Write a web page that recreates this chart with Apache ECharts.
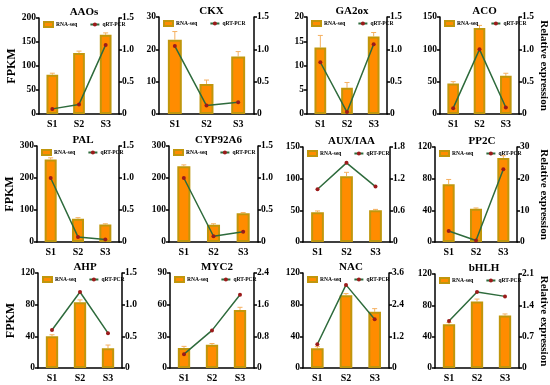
<!DOCTYPE html>
<html><head><meta charset="utf-8">
<script src="https://cdn.jsdelivr.net/npm/echarts@6/dist/echarts.min.js"></script>
<style>html,body{margin:0;padding:0;background:#fff}#c{width:550px;height:385px}</style>
</head><body><div id="c"></div>
<script>
const categories = ['S1','S2','S3'];
const genes = ['AAOs','CKX','GA2ox','ACO','PAL','CYP92A6','AUX/IAA','PP2C','AHP','MYC2','NAC','bHLH'];
const rnaSeq = [[82,127,165],[23,9.3,17.8],[13.7,5.4,16],[47,133,59],[258,73,55],[237,54,90],[47,104,50],[73,42,106],[40,83,25],[19,22,55],[25,92,71],[56,85,67]];
const rnaSeqErr = [[3,4,4],[2.5,1.2,1.5],[2.5,1.1,0.8],[3,4,4],[5,3,2],[4,3,2],[2,6,1.5],[6,1,3],[2,3,4],[1.5,1.2,2.5],[2,2,4],[2,3,2]];
const qrtPcr = [[0.08,0.15,1.08],[1.05,0.13,0.18],[0.8,0.03,1.08],[0.09,1.0,0.1],[1.0,0.08,0.04],[1.0,0.09,0.16],[1.0,1.5,1.05],[3.5,0.5,23],[0.6,1.2,0.55],[0.35,0.95,1.85],[0.9,3.15,1.85],[1.05,1.7,1.6]];
const leftMax = [200,30,20,150,300,300,150,120,120,90,120,120];
const leftStep = [50,10,5,50,100,100,50,40,40,30,40,40];
const rightMax = [1.5,1.5,1.5,1.5,1.5,1.5,1.8,30,1.5,2.4,3.6,2.1];
const rightStep = [0.5,0.5,0.5,0.5,0.5,0.5,0.6,10,0.5,0.8,1.2,0.7];

const boxes = [
  [39,18,80,96],[159,17,95,97],[307,17,80,97],[440,17,79,97],
  [37,146,82,96],[169,146,89,96],[303,147,87,95],[435,147,84,95],
  [38,273,84,95],[170,273,84,95],[303,273,86,95],[435,274,88,94]
];
const FF = 'Liberation Serif';
const grid=[],xAxis=[],yAxis=[],series=[],title=[],legend=[];
boxes.forEach((b,i)=>{
  grid.push({left:b[0],top:b[1],width:b[2],height:b[3]});
  title.push({text:genes[i],left:b[0]+b[2]/2,top:b[1]-16,textAlign:'center',
    textStyle:{fontFamily:FF,fontWeight:'bold',fontSize:11,color:'#000'}});
  legend.push({left:b[0]+4,top:b[1]+3,itemWidth:9,itemHeight:5,itemGap:12,padding:0,
    textStyle:{fontFamily:FF,fontWeight:'bold',fontSize:5.5,color:'#000',padding:[0,0,0,-2]},
    data:[{name:'RNA-seq',icon:'rect'},{name:'qRT-PCR'}]});
  xAxis.push({type:'category',gridIndex:i,data:categories,
    axisLine:{lineStyle:{color:'#000',width:1.5}},axisTick:{show:false},
    axisLabel:{fontFamily:FF,fontWeight:'bold',fontSize:10,color:'#000',margin:5}});
  const lax={type:'value',gridIndex:i,min:0,max:leftMax[i],interval:leftStep[i],
    splitLine:{show:false},axisLine:{show:true,lineStyle:{color:'#000',width:1.5}},
    axisTick:{show:true,length:3,lineStyle:{width:1.5}},
    axisLabel:{fontFamily:FF,fontWeight:'bold',fontSize:9.5,color:'#000',margin:3}};
  if(i%4===0){Object.assign(lax,{name:'FPKM',nameLocation:'middle',nameGap:21,nameRotate:90,
    nameTextStyle:{fontFamily:FF,fontWeight:'bold',fontSize:12,color:'#000'}});}
  const dec = Number.isInteger(rightStep[i])?0:1;
  const rax={type:'value',gridIndex:i,position:'right',min:0,max:rightMax[i],interval:rightStep[i],
    splitLine:{show:false},axisLine:{show:true,lineStyle:{color:'#000',width:1.5}},
    axisTick:{show:true,length:3,lineStyle:{width:1.5}},
    axisLabel:{fontFamily:FF,fontWeight:'bold',fontSize:9.5,color:'#000',margin:3,
      formatter:v=>v===0?'0':v.toFixed(dec)}};
  if(i%4===3){Object.assign(rax,{name:'Relative expression',nameLocation:'middle',nameGap:i===7?21:19,nameRotate:-90,
    nameTextStyle:{fontFamily:FF,fontWeight:'bold',fontSize:11,color:'#000'}});}
  yAxis.push(lax,rax);
  series.push({name:'RNA-seq',type:'bar',xAxisIndex:i,yAxisIndex:2*i,data:rnaSeq[i],barWidth:'44%',
    itemStyle:{color:'#FF8C00',borderColor:'#C0960C',borderWidth:2}});
  series.push({name:'RNA-seq-err',type:'custom',xAxisIndex:i,yAxisIndex:2*i,z:1,
    data:rnaSeq[i].map((v,k)=>[k,v,v+rnaSeqErr[i][k]]),
    renderItem:(params,api)=>{
      const p1=api.coord([api.value(0),api.value(1)]);
      const p2=api.coord([api.value(0),api.value(2)]);
      return {type:'group',children:[
        {type:'line',shape:{x1:p1[0],y1:p1[1],x2:p2[0],y2:p2[1]},style:{stroke:'#F5B060',lineWidth:1}},
        {type:'line',shape:{x1:p2[0]-2.5,y1:p2[1],x2:p2[0]+2.5,y2:p2[1]},style:{stroke:'#F5B060',lineWidth:1}}]};
    },silent:true});
  series.push({name:'qRT-PCR',type:'line',xAxisIndex:i,yAxisIndex:2*i+1,data:qrtPcr[i],
    symbol:'circle',symbolSize:4,z:5,
    lineStyle:{color:'#2E6B3C',width:1.5},itemStyle:{color:'#9B1B1B'}});
});
const chart = echarts.init(document.getElementById('c'),null,{renderer:'canvas'});
chart.setOption({animation:false,backgroundColor:'#fff',title,legend,grid,xAxis,yAxis,series,
  color:['#C0960C','#2E6B3C']});
</script></body></html>
